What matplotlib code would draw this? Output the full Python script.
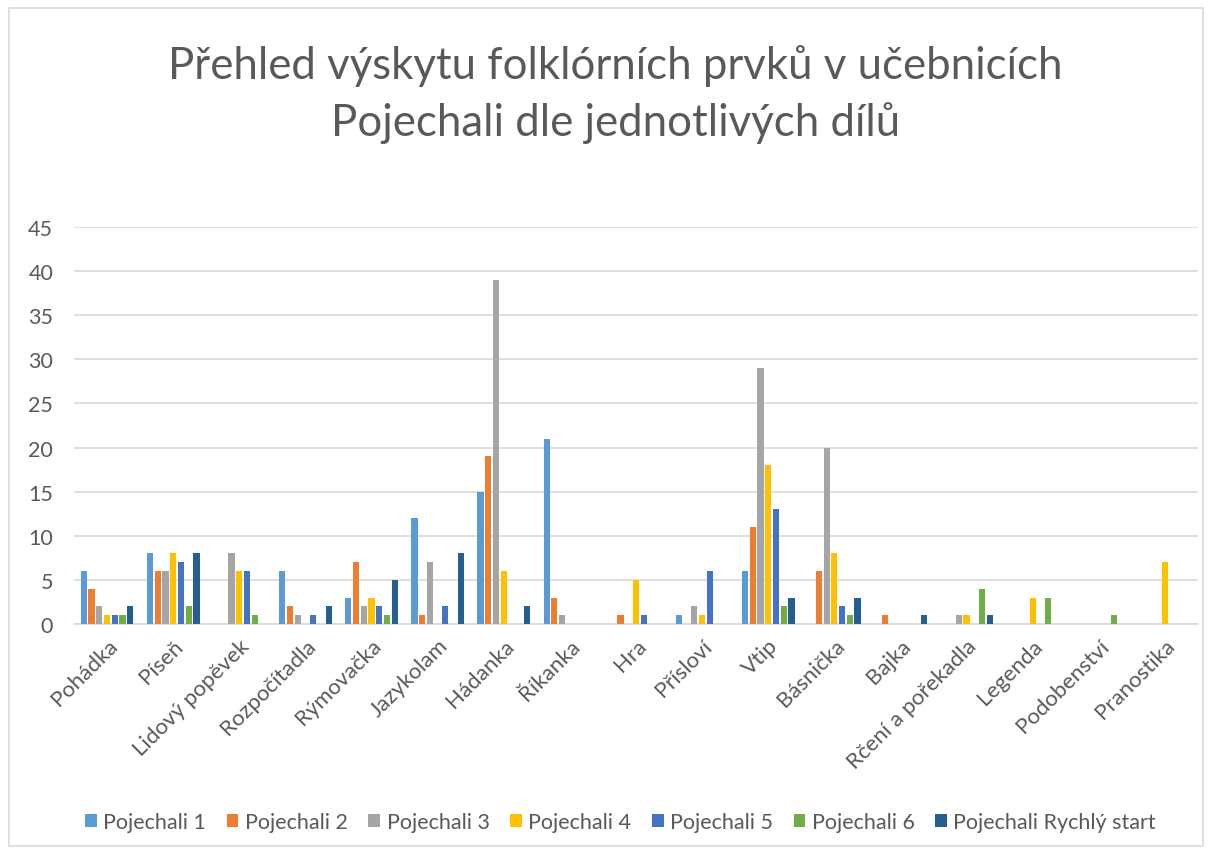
import matplotlib
matplotlib.use('Agg')
import numpy as np
from matplotlib import pyplot as plt
from matplotlib.patches import Rectangle

plt.rcParams['font.family'] = ['Lato', 'DejaVu Sans']

categories = ['Pohádka', 'Píseň', 'Lidový popěvek', 'Rozpočítadla', 'Rýmovačka', 'Jazykolam',
              'Hádanka', 'Říkanka', 'Hra', 'Přísloví', 'Vtip', 'Básnička', 'Bajka',
              'Rčení a pořekadla', 'Legenda', 'Podobenství', 'Pranostika']

series_names = ['Pojechali 1', 'Pojechali 2', 'Pojechali 3', 'Pojechali 4',
                'Pojechali 5', 'Pojechali 6', 'Pojechali Rychlý start']

pojechali_1 = [6, 8, 0, 6, 3, 12, 15, 21, 0, 1, 6, 0, 0, 0, 0, 0, 0]
pojechali_2 = [4, 6, 0, 2, 7, 1, 19, 3, 1, 0, 11, 6, 1, 0, 0, 0, 0]
pojechali_3 = [2, 6, 8, 1, 2, 7, 39, 1, 0, 2, 29, 20, 0, 1, 0, 0, 0]
pojechali_4 = [1, 8, 6, 0, 3, 0, 6, 0, 5, 1, 18, 8, 0, 1, 3, 0, 7]
pojechali_5 = [1, 7, 6, 1, 2, 2, 0, 0, 1, 6, 13, 2, 0, 0, 0, 0, 0]
pojechali_6 = [1, 2, 1, 0, 1, 0, 0, 0, 0, 0, 2, 1, 0, 4, 3, 1, 0]
pojechali_rs = [2, 8, 0, 2, 5, 8, 2, 0, 0, 0, 3, 3, 1, 1, 0, 0, 0]

series = [pojechali_1, pojechali_2, pojechali_3, pojechali_4, pojechali_5, pojechali_6, pojechali_rs]
colors = ['#5B9BD5', '#ED7D31', '#A5A5A5', '#FFC000', '#4472C4', '#70AD47', '#255E91']

text_color = '#595959'
grid_color = '#D9D9D9'

fig = plt.figure(figsize=(12.12, 8.54), dpi=100)
ax = fig.add_axes([74 / 1212, 1 - 625 / 854, 1124 / 1212, 397 / 854])

x = np.arange(len(categories))
step = 0.82 / len(series)
for i, (vals, col, name) in enumerate(zip(series, colors, series_names)):
    offs = (i - (len(series) - 1) / 2) * step
    ax.bar(x + offs, vals, width=step * 0.8, color=col, label=name, zorder=3)

ax.set_xlim(-0.5, len(categories) - 0.5)
ax.set_ylim(0, 45)
ax.set_yticks(range(0, 46, 5))
ax.yaxis.grid(True, color=grid_color, linewidth=1.2, zorder=0)
ax.set_axisbelow(True)
for s in ['top', 'right', 'left']:
    ax.spines[s].set_visible(False)
ax.spines['bottom'].set_color(grid_color)
ax.spines['bottom'].set_linewidth(1.2)
ax.tick_params(axis='both', length=0, colors=text_color, labelsize=15.5)
ax.tick_params(axis='y', pad=15)
ax.tick_params(axis='x', pad=8, labelsize=16)
ax.set_xticks(x)
ax.set_xticklabels(categories, rotation=45, ha='right', rotation_mode='anchor')

fig.text(0.508, 1 - 66 / 854, 'Přehled výskytu folklórních prvků v učebnicích',
         ha='center', va='center', fontsize=31.5, color=text_color)
fig.text(0.508, 1 - 123 / 854, 'Pojechali dle jednotlivých dílů',
         ha='center', va='center', fontsize=31.5, color=text_color)

fig.legend(loc='center', bbox_to_anchor=(0.512, 1 - 823 / 854), ncol=7, frameon=False,
           fontsize=15.5, labelcolor=text_color, handlelength=0.55, handleheight=0.55,
           handletextpad=0.3, columnspacing=0.95)

fig.patches.append(Rectangle((9 / 1212, 7 / 854), 1194 / 1212, 838 / 854, transform=fig.transFigure,
                             fill=False, edgecolor=grid_color, linewidth=1.2))

fig.savefig('out.png', dpi=100)
